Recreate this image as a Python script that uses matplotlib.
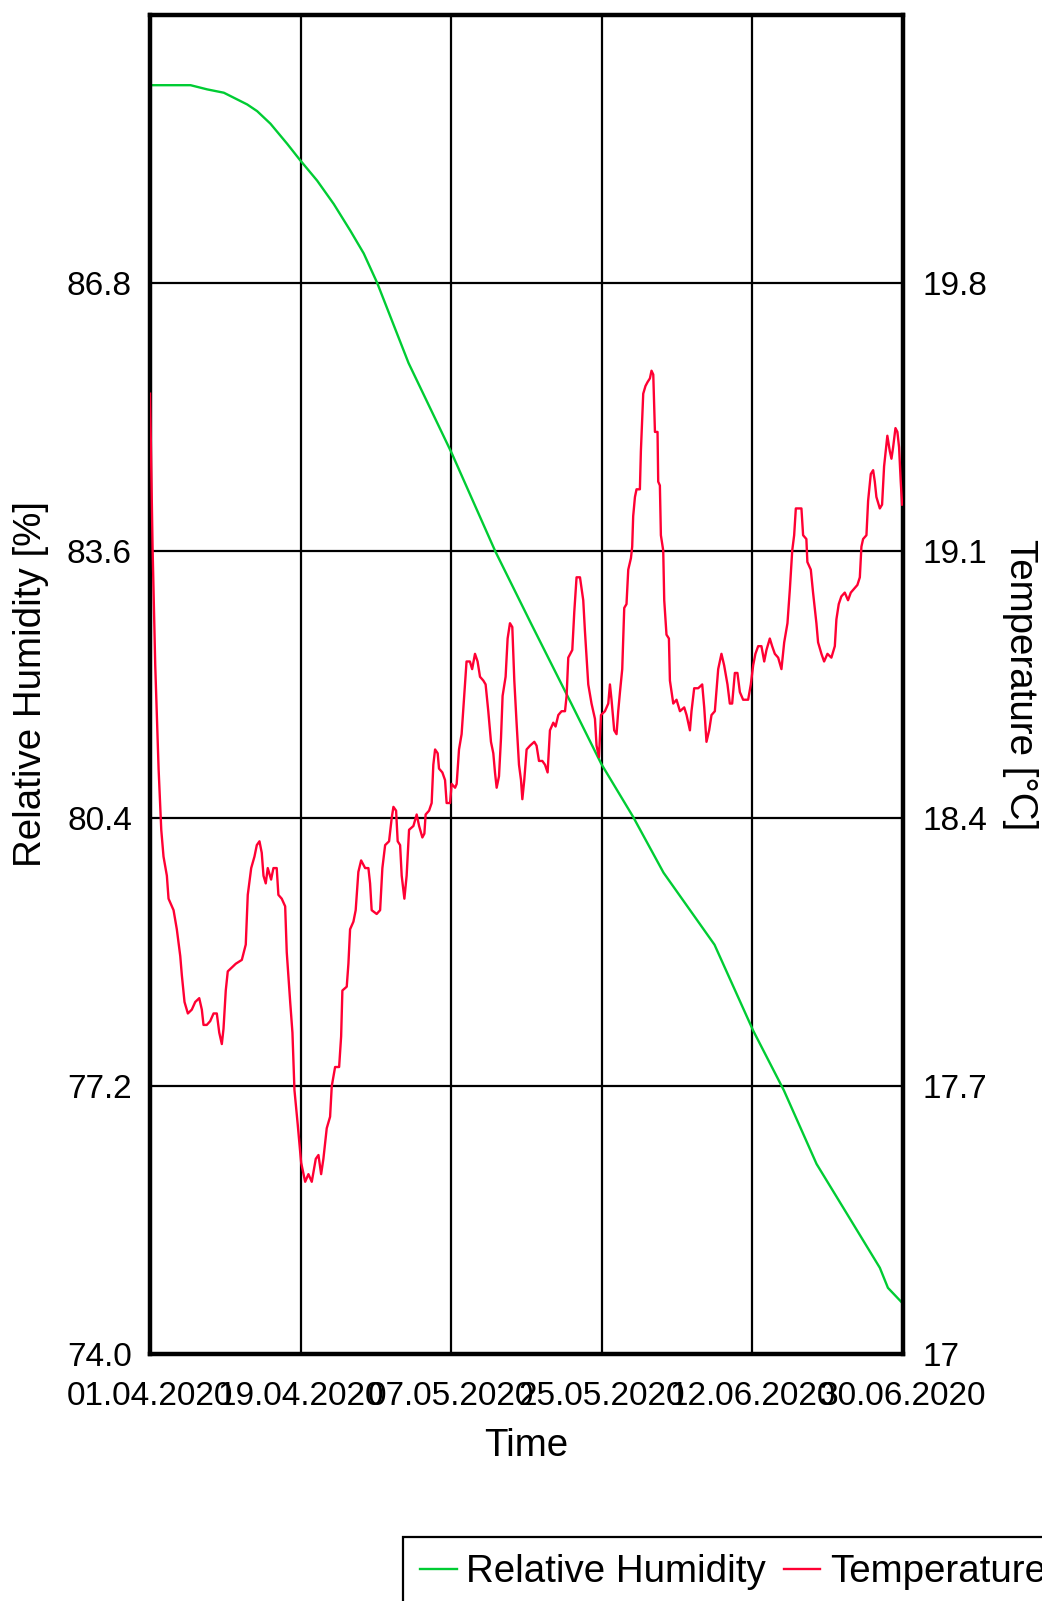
import matplotlib
matplotlib.use("Agg")
import matplotlib.pyplot as plt

plt.rcParams["font.family"] = ["Liberation Sans", "DejaVu Sans"]

# x axis is days since 01.04.2020
date_ticks = [0, 18, 36, 54, 72, 90]
date_labels = ["01.04.2020", "19.04.2020", "07.05.2020",
               "25.05.2020", "12.06.2020", "30.06.2020"]

rh_ticks = [74.0, 77.2, 80.4, 83.6, 86.8]
rh_labels = ["74.0", "77.2", "80.4", "83.6", "86.8"]
temp_ticks = [17.0, 17.7, 18.4, 19.1, 19.8]
temp_labels = ["17", "17.7", "18.4", "19.1", "19.8"]

# relative humidity [%]
rh_days = [0.0, 4.84, 6.83, 8.82, 11.61, 12.80, 14.39, 16.39, 17.89, 19.97,
           21.96, 23.95, 25.54, 27.14, 30.90, 36.03, 41.27, 45.53, 50.41, 53.94,
           57.73, 61.38, 67.47, 72.11, 75.76, 79.67, 83.33, 87.23, 88.20, 89.91]
rh = [89.16, 89.16, 89.11, 89.07, 88.93, 88.85, 88.70, 88.46, 88.27, 88.02,
      87.74, 87.42, 87.15, 86.80, 85.84, 84.77, 83.59, 82.73, 81.76, 81.05,
      80.42, 79.75, 78.89, 77.86, 77.15, 76.27, 75.67, 75.03, 74.79, 74.61]

# temperature [°C]
temp_days = [
    0.0, 0.30, 0.62, 1.02, 1.34, 1.61, 2.01, 2.21, 2.81, 3.20,
    3.61, 3.80, 4.12, 4.52, 4.99, 5.40, 5.88, 6.19, 6.39, 6.78,
    7.19, 7.59, 7.98, 8.27, 8.58, 8.78, 9.05, 9.29, 9.77, 10.25,
    10.97, 11.44, 11.68, 12.09, 12.48, 12.76, 13.08, 13.35, 13.56, 13.83,
    14.07, 14.47, 14.75, 15.14, 15.34, 15.74, 16.15, 16.34, 16.75, 17.02,
    17.26, 17.65, 18.06, 18.54, 18.93, 19.33, 19.81, 20.13, 20.45, 20.72,
    21.12, 21.52, 21.72, 22.12, 22.60, 22.84, 22.99, 23.51, 23.71, 23.91,
    24.31, 24.58, 24.90, 25.23, 25.71, 26.10, 26.30, 26.49, 27.09, 27.50,
    27.77, 28.10, 28.57, 28.88, 29.09, 29.41, 29.60, 29.89, 30.08, 30.40,
    30.67, 30.96, 31.48, 31.87, 32.16, 32.55, 32.79, 32.94, 33.35, 33.66,
    33.86, 34.07, 34.38, 34.54, 34.94, 35.26, 35.45, 35.86, 36.05, 36.46,
    36.65, 36.93, 37.24, 37.55, 37.83, 38.23, 38.50, 38.84, 39.15, 39.44,
    39.84, 40.11, 40.43, 40.75, 41.03, 41.23, 41.43, 41.71, 41.95, 42.14,
    42.50, 42.74, 43.02, 43.30, 43.54, 43.81, 44.10, 44.34, 44.50, 44.73,
    45.01, 45.42, 45.93, 46.20, 46.49, 46.89, 47.21, 47.52, 47.80, 48.20,
    48.47, 48.80, 49.19, 49.60, 49.79, 49.99, 50.47, 50.71, 50.98, 51.39,
    51.58, 51.78, 51.98, 52.38, 52.77, 53.18, 53.37, 53.66, 53.90, 54.37,
    54.77, 54.97, 55.16, 55.48, 55.76, 55.96, 56.17, 56.44, 56.68, 56.95,
    57.16, 57.48, 57.63, 57.75, 57.96, 58.15, 58.55, 58.67, 58.95, 59.22,
    59.46, 59.75, 59.94, 60.15, 60.35, 60.66, 60.74, 60.94, 61.06, 61.34,
    61.46, 61.73, 62.02, 62.14, 62.54, 62.93, 63.34, 63.85, 64.13, 64.53,
    64.72, 65.04, 65.52, 66.00, 66.24, 66.51, 66.83, 67.11, 67.51, 67.91,
    68.30, 68.62, 69.02, 69.30, 69.58, 69.90, 70.21, 70.50, 70.89, 71.49,
    71.81, 72.09, 72.36, 72.69, 73.08, 73.41, 73.68, 74.08, 74.36, 74.68,
    75.08, 75.47, 75.80, 76.19, 76.48, 76.76, 76.99, 77.19, 77.86, 78.06,
    78.45, 78.57, 78.98, 79.25, 79.65, 79.85, 80.25, 80.57, 80.97, 81.44,
    81.85, 82.04, 82.32, 82.63, 83.04, 83.43, 83.76, 84.15, 84.55, 84.84,
    85.03, 85.23, 85.63, 85.83, 86.15, 86.43, 86.63, 86.82, 87.23, 87.50,
    87.74, 88.13, 88.42, 88.62, 88.82, 89.10, 89.33, 89.53, 89.73, 89.89,
]
temp = [
    19.51, 19.11, 18.80, 18.53, 18.37, 18.30, 18.25, 18.19, 18.16, 18.11,
    18.04, 17.99, 17.92, 17.89, 17.90, 17.92, 17.93, 17.90, 17.86, 17.86,
    17.87, 17.89, 17.89, 17.84, 17.81, 17.85, 17.95, 18.00, 18.01, 18.02,
    18.03, 18.07, 18.20, 18.27, 18.30, 18.33, 18.34, 18.31, 18.25, 18.23,
    18.27, 18.24, 18.27, 18.27, 18.20, 18.19, 18.17, 18.05, 17.92, 17.84,
    17.69, 17.60, 17.50, 17.45, 17.47, 17.45, 17.51, 17.52, 17.47, 17.51,
    17.59, 17.62, 17.70, 17.75, 17.75, 17.83, 17.95, 17.96, 18.02, 18.11,
    18.13, 18.16, 18.26, 18.29, 18.27, 18.27, 18.23, 18.16, 18.15, 18.16,
    18.27, 18.33, 18.34, 18.40, 18.43, 18.42, 18.34, 18.33, 18.25, 18.19,
    18.25, 18.37, 18.38, 18.41, 18.38, 18.35, 18.36, 18.41, 18.42, 18.44,
    18.54, 18.58, 18.57, 18.53, 18.52, 18.50, 18.44, 18.44, 18.49, 18.48,
    18.49, 18.58, 18.62, 18.72, 18.81, 18.81, 18.79, 18.83, 18.81, 18.77,
    18.76, 18.75, 18.68, 18.60, 18.57, 18.52, 18.48, 18.51, 18.61, 18.72,
    18.77, 18.87, 18.91, 18.90, 18.76, 18.65, 18.54, 18.50, 18.45, 18.50,
    18.58, 18.59, 18.60, 18.59, 18.55, 18.55, 18.54, 18.52, 18.63, 18.65,
    18.64, 18.67, 18.68, 18.68, 18.72, 18.82, 18.84, 18.94, 19.03, 19.03,
    19.00, 18.97, 18.89, 18.75, 18.70, 18.66, 18.59, 18.56, 18.67, 18.68,
    18.70, 18.75, 18.71, 18.63, 18.62, 18.68, 18.73, 18.79, 18.95, 18.96,
    19.05, 19.08, 19.11, 19.19, 19.24, 19.26, 19.26, 19.36, 19.51, 19.53,
    19.54, 19.55, 19.57, 19.56, 19.41, 19.41, 19.28, 19.27, 19.14, 19.10,
    18.97, 18.88, 18.87, 18.76, 18.70, 18.71, 18.68, 18.69, 18.67, 18.63,
    18.68, 18.74, 18.74, 18.75, 18.69, 18.60, 18.63, 18.67, 18.68, 18.79,
    18.83, 18.80, 18.75, 18.70, 18.70, 18.78, 18.78, 18.73, 18.71, 18.71,
    18.75, 18.80, 18.83, 18.85, 18.85, 18.81, 18.84, 18.87, 18.85, 18.83,
    18.82, 18.79, 18.86, 18.91, 19.00, 19.10, 19.14, 19.21, 19.21, 19.14,
    19.13, 19.07, 19.05, 18.99, 18.91, 18.86, 18.83, 18.81, 18.83, 18.82,
    18.85, 18.92, 18.96, 18.98, 18.99, 18.97, 18.99, 19.00, 19.01, 19.03,
    19.11, 19.13, 19.14, 19.23, 19.30, 19.31, 19.28, 19.24, 19.21, 19.22,
    19.32, 19.40, 19.36, 19.34, 19.37, 19.42, 19.41, 19.37, 19.28, 19.22,
]

fig = plt.figure(figsize=(10.42, 16.01), dpi=100)
ax = fig.add_axes([0.1440, 0.1543, 0.7226, 0.8364])
ax2 = ax.twinx()

rh_line, = ax.plot(rh_days, rh, color="#00cc33", lw=1.7, label="Relative Humidity")
t_line, = ax2.plot(temp_days, temp, color="#ff0033", lw=1.7, label="Temperature")

ax.set_xlim(0, 90)
ax.set_ylim(74, 90)
ax2.set_ylim(17, 20.5)

ax.set_xticks(date_ticks)
ax.set_xticklabels(date_labels)
ax.set_yticks(rh_ticks)
ax.set_yticklabels(rh_labels)
ax2.set_yticks(temp_ticks)
ax2.set_yticklabels(temp_labels)

ax.grid(True, color="black", lw=1.6)
ax.set_axisbelow(True)
ax.tick_params(axis="x", length=0, labelsize=24, pad=19.5)
ax.tick_params(axis="y", length=0, labelsize=24, pad=13)
ax2.tick_params(axis="y", length=0, labelsize=24, pad=14)

for sp in ax.spines.values():
    sp.set_linewidth(3.2)
    sp.set_color("black")
for sp in ax2.spines.values():
    sp.set_visible(False)

ax.set_xlabel("Time", fontsize=27.7, va="center")
ax.xaxis.set_label_coords(0.5, -0.0687)
ax.set_ylabel("Relative Humidity [%]", fontsize=27.7, va="center", ha="center")
ax.yaxis.set_label_coords(-0.158, 0.5)
ax2.set_ylabel("Temperature [°C]", fontsize=27.7, rotation=270, va="center", ha="center")
ax2.yaxis.set_label_coords(1.155, 0.5)

# legend runs off the right and bottom edges of the canvas
leg = fig.legend(handles=[rh_line, t_line], loc="upper left",
                 bbox_to_anchor=(403 / 1042, 1 - 1537 / 1601), ncol=2,
                 fontsize=27.7, frameon=True, fancybox=False, edgecolor="black",
                 framealpha=1, handlelength=0.95, handletextpad=0.25,
                 columnspacing=0.45, borderpad=0.45, borderaxespad=0)
leg.get_frame().set_linewidth(1.6)

fig.savefig("out.png", dpi=100)
